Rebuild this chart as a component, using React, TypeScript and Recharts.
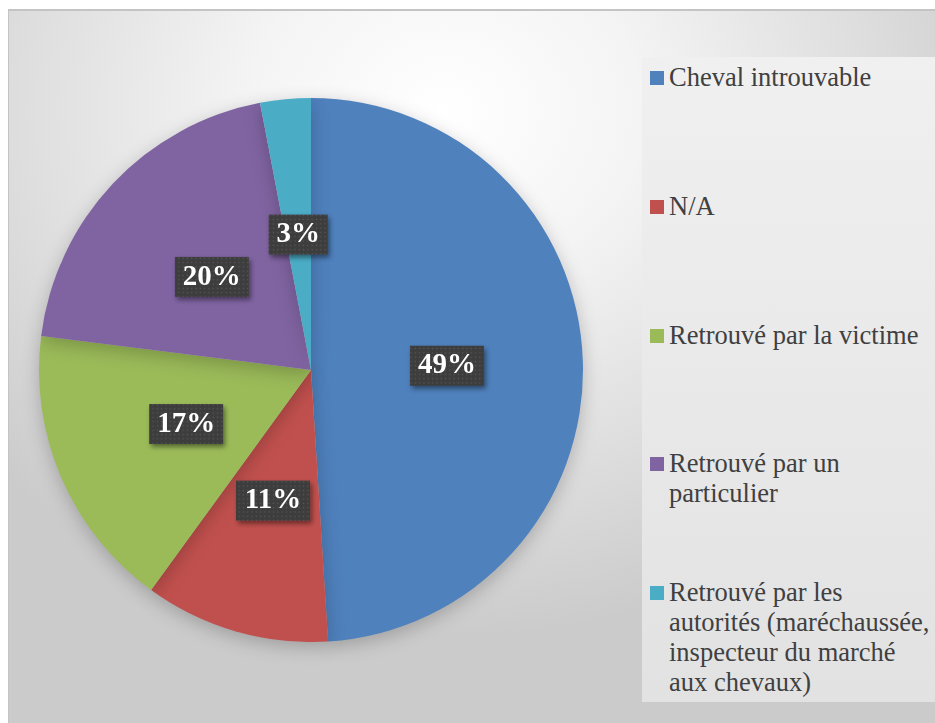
import React from "react"
import { PieChart, Pie, Cell, Legend } from "recharts"

// Outcome of horse-theft cases, in percent
const categories = [
  "Cheval introuvable",
  "N/A",
  "Retrouvé par la victime",
  "Retrouvé par un particulier",
  "Retrouvé par les autorités (maréchaussée, inspecteur du marché aux chevaux)",
]
const shares = [49, 11, 17, 20, 3]
const colors = ["#4f81bd", "#c0504d", "#9bbb59", "#8064a2", "#4bacc6"]

// legend text broken the same way the side panel wraps it
const legendLines = [
  ["Cheval introuvable"],
  ["N/A"],
  ["Retrouvé par la victime"],
  ["Retrouvé par un", "particulier"],
  ["Retrouvé par les", "autorités (maréchaussée,", "inspecteur du marché", "aux chevaux)"],
]

const data = categories.map((name, i) => ({ name, value: shares[i] }))

const SERIF = "'Liberation Serif', 'Times New Roman', serif"
const RAD = Math.PI / 180

function renderLabel(props: any) {
  const { cx, cy, midAngle, outerRadius, value } = props
  const r = outerRadius * 0.5
  const x = cx + r * Math.cos(-midAngle * RAD)
  const y = cy + r * Math.sin(-midAngle * RAD)
  const text = `${value}%`
  const w = text.length * 15 + 29
  const h = 40
  return (
    <g>
      <rect
        x={x - w / 2}
        y={y - h / 2}
        width={w}
        height={h}
        fill="url(#dotFill)"
        filter="url(#boxShadow)"
      />
      <text
        x={x}
        y={y + 1}
        textAnchor="middle"
        dominantBaseline="middle"
        fill="#ffffff"
        fontFamily={SERIF}
        fontWeight="bold"
        fontSize={29}
      >
        {text}
      </text>
    </g>
  )
}

function SideLegend() {
  return (
    <div
      style={{
        position: "absolute",
        left: 633,
        top: 46,
        width: 293,
        height: 645,
        background: "linear-gradient(180deg, #f0f0f0 0%, #e9e9e9 50%, #e2e2e2 100%)",
        fontFamily: SERIF,
        fontSize: 26.5,
        lineHeight: "30px",
        color: "#404040",
      }}
    >
      {legendLines.map((lines, i) => (
        <div
          key={categories[i]}
          style={{ position: "absolute", left: 8, top: 5 + i * 128.8, display: "flex" }}
        >
          <span
            style={{
              width: 14,
              height: 14,
              marginTop: 9,
              marginRight: 5,
              background: colors[i],
              flexShrink: 0,
            }}
          />
          <div>
            {lines.map((l) => (
              <div key={l} style={{ whiteSpace: "nowrap" }}>
                {l}
              </div>
            ))}
          </div>
        </div>
      ))}
    </div>
  )
}

export default function App() {
  return (
    <div
      style={{
        position: "fixed",
        left: 8,
        top: 9,
        width: 927,
        height: 714,
        boxSizing: "border-box",
        borderTop: "2px solid #c4c4c4",
        borderLeft: "1px solid #c4c4c4",
        background:
          "radial-gradient(ellipse 66% 74% at 47% 14%, #ffffff 0%, #f4f4f4 32%, #e0e0e0 66%, #cbcbcb 100%)",
        overflow: "hidden",
      }}
    >
      <svg width={0} height={0} style={{ position: "absolute" }}>
        <defs>
          <pattern id="dotFill" width={4.3} height={4.3} patternUnits="userSpaceOnUse">
            <rect width={4.3} height={4.3} fill="#3d3d3d" />
            <rect x={1.5} y={1.5} width={1.3} height={1.3} fill="#575757" />
          </pattern>
          <filter id="boxShadow" x="-30%" y="-30%" width="160%" height="170%">
            <feDropShadow dx={2} dy={3} stdDeviation={2.5} floodColor="#000" floodOpacity={0.45} />
          </filter>
        </defs>
      </svg>
      <SideLegend />
      <PieChart
        width={926}
        height={712}
        margin={{ top: 0, right: 0, bottom: 0, left: 0 }}
        style={{ position: "absolute", left: 0, top: 0 }}
      >
        <Pie
          data={data}
          dataKey="value"
          nameKey="name"
          cx={302}
          cy={359}
          outerRadius={272}
          startAngle={90}
          endAngle={-270}
          stroke="none"
          labelLine={false}
          label={renderLabel}
          isAnimationActive={false}
          style={{ filter: "drop-shadow(0 5px 9px rgba(0,0,0,0.22))" }}
        >
          {data.map((d, i) => (
            <Cell key={d.name} fill={colors[i]} />
          ))}
        </Pie>
        <Legend content={() => null} />
      </PieChart>
    </div>
  )
}
